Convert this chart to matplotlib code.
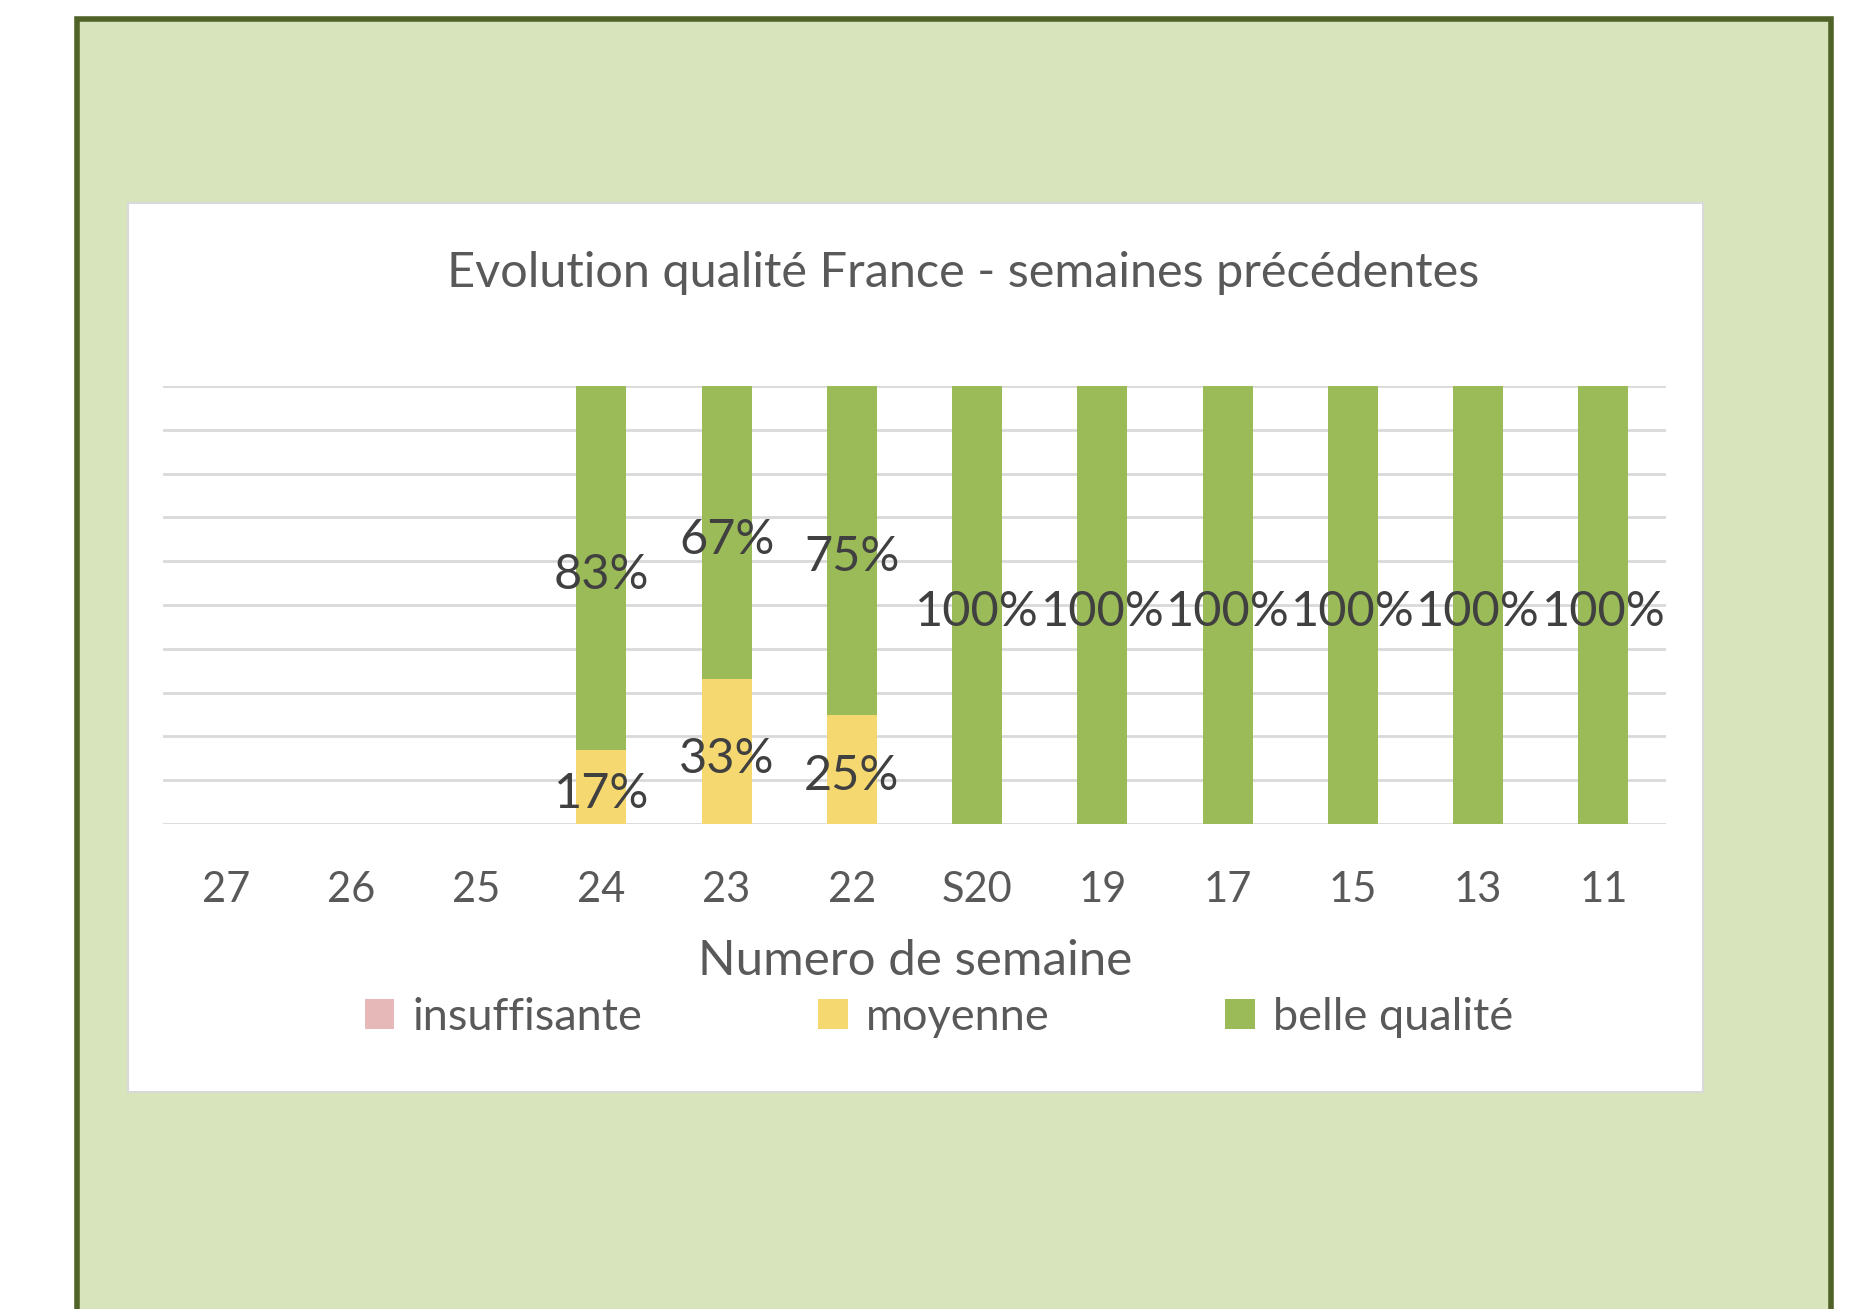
import matplotlib.pyplot as plt
from matplotlib.patches import Rectangle
import matplotlib.transforms as mtransforms
import numpy as np

weeks = ['27', '26', '25', '24', '23', '22', 'S20', '19', '17', '15', '13', '11']
insuffisante = [0, 0, 0, 0, 0, 0, 0, 0, 0, 0, 0, 0]
moyenne = [0, 0, 0, 0.17, 0.33, 0.25, 0, 0, 0, 0, 0, 0]
belle = [0, 0, 0, 0.83, 0.67, 0.75, 1, 1, 1, 1, 1, 1]

plt.rcParams['font.family'] = ['Lato', 'DejaVu Sans']

fig = plt.figure(figsize=(18.51, 13.09), dpi=100)
W, H = 1851, 1309

# outer green frame (bottom runs off the page)
fig.patches.append(Rectangle((77 / W, -0.05), (1831 - 77) / W, 1.05 - 19 / H,
                             transform=fig.transFigure, facecolor='#D8E4BC',
                             edgecolor='#4F6228', linewidth=4, zorder=0))
# white chart area
fig.patches.append(Rectangle((128 / W, 1 - 1092 / H), (1703 - 128) / W, (1092 - 203) / H,
                             transform=fig.transFigure, facecolor='white',
                             edgecolor='#D9D9D9', linewidth=1.5, zorder=1))

ax = fig.add_axes([163 / W, 1 - 824 / H, (1666 - 163) / W, (824 - 386) / H])
ax.set_facecolor('none')
ax.set_zorder(2)

x = np.arange(len(weeks))
w = 0.4
ins = np.array(insuffisante)
moy = np.array(moyenne)
bel = np.array(belle)
b1 = ax.bar(x, ins, w, color='#E6B9B8', label='insuffisante', zorder=3)
b2 = ax.bar(x, moy, w, bottom=ins, color='#F5D970', label='moyenne', zorder=3)
b3 = ax.bar(x, bel, w, bottom=ins + moy, color='#9BBB59', label='belle qualité', zorder=3)

# nudge labels down a little, like the original
off = mtransforms.offset_copy(ax.transData, fig=fig, x=0, y=-5, units='points')
lab_kw = dict(ha='center', va='center', fontsize=35, color='#404040', zorder=4, transform=off)
for i in range(len(weeks)):
    if moy[i] > 0:
        ax.text(x[i], ins[i] + moy[i] / 2, f'{moy[i]*100:.0f}%', **lab_kw)
    if bel[i] > 0:
        ax.text(x[i], ins[i] + moy[i] + bel[i] / 2, f'{bel[i]*100:.0f}%', **lab_kw)

ax.set_xlim(-0.5, len(weeks) - 0.5)
ax.set_ylim(0, 1)
ax.set_yticks(np.arange(0, 1.01, 0.1))
ax.yaxis.grid(True, color='#D9D9D9', linewidth=2)
ax.set_axisbelow(True)
ax.tick_params(axis='y', left=False, labelleft=False)
ax.set_xticks(x)
ax.set_xticklabels(weeks)
ax.tick_params(axis='x', length=0, pad=34, labelsize=30, labelcolor='#595959')
for s in ax.spines.values():
    s.set_visible(False)

fig.text(963 / W, 1 - 273 / H, 'Evolution qualité France - semaines précédentes',
         ha='center', va='center', fontsize=35, color='#595959')
fig.text(915 / W, 1 - 961 / H, 'Numero de semaine',
         ha='center', va='center', fontsize=35.5, color='#595959')

leg = fig.legend(handles=[b1, b2, b3], loc='center', bbox_to_anchor=(939 / W, 1 - 1017 / H),
                 ncol=3, frameon=False, fontsize=32.5, labelcolor='#595959',
                 handlelength=0.65, handleheight=0.65, handletextpad=0.4, columnspacing=3.9)

fig.savefig('out.png', dpi=100)
